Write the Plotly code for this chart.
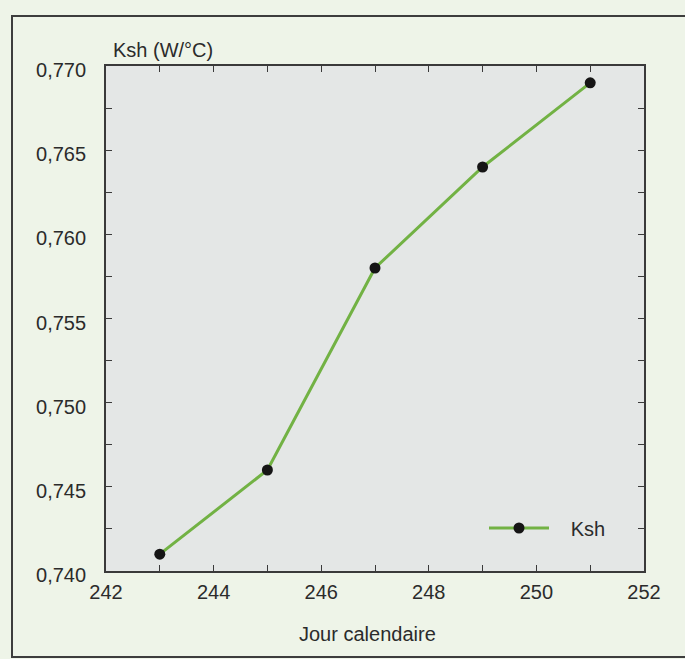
import plotly.graph_objects as go

days = [243, 245, 247, 249, 251]
ksh = [0.741, 0.746, 0.758, 0.764, 0.769]
series_name = "Ksh"

x_ticks = list(range(242, 253))
x_labels = [str(v) if v % 2 == 0 else "" for v in x_ticks]
y_ticks = [0.740 + 0.0025 * i for i in range(13)]
y_labels = [f"{v:.3f}".replace(".", ",") if i % 2 == 0 else "" for i, v in enumerate(y_ticks)]

W, H = 685, 659
ml, mr, mt, mb = 106, 41, 66, 88
pw, ph = W - ml - mr, H - mt - mb

def px(x):
    return (x - ml) / pw

def py(y):
    return (H - mb - y) / ph

txt = "#2b2b2b"
axcol = "#3a3a3a"
fs = 20

fig = go.Figure()
fig.add_trace(go.Scatter(
    x=days, y=ksh, name="\u00a0\u00a0\u00a0" + series_name, mode="lines+markers",
    line=dict(color="#72b244", width=3),
    marker=dict(color="#151515", size=11),
))

fig.update_layout(
    width=W, height=H,
    margin=dict(l=ml, r=mr, t=mt, b=mb),
    paper_bgcolor="#eef4e8",
    plot_bgcolor="#e4e7e6",
    font=dict(family="Liberation Sans, Arial, sans-serif", size=fs, color=txt),
    showlegend=True,
    legend=dict(
        x=px(484), y=py(528), xanchor="left", yanchor="middle",
        bgcolor="rgba(0,0,0,0)", itemwidth=60,
        font=dict(size=fs, color=txt),
    ),
    xaxis=dict(
        range=[242, 252], tickvals=x_ticks, ticktext=x_labels,
        ticks="inside", ticklen=6, tickwidth=1.2, tickcolor=axcol,
        showline=True, linecolor=axcol, linewidth=1.8, mirror="allticks",
        showgrid=False, zeroline=False, ticklabelstandoff=2,
    ),
    yaxis=dict(
        range=[0.740, 0.770], tickvals=y_ticks, ticktext=y_labels,
        ticks="inside", ticklen=6, tickwidth=1.2, tickcolor=axcol,
        showline=True, linecolor=axcol, linewidth=1.8, mirror="allticks",
        showgrid=False, zeroline=False, ticklabelstandoff=14, ticklabelshift=4,
    ),
    annotations=[
        dict(text="Ksh (W/°C)", xref="paper", yref="paper", x=px(111), y=py(50),
             xanchor="left", yanchor="middle", showarrow=False,
             font=dict(size=fs, color=txt)),
        dict(text="Jour calendaire", xref="paper", yref="paper", x=px(367), y=py(634),
             xanchor="center", yanchor="middle", showarrow=False,
             font=dict(size=fs, color=txt)),
    ],
    shapes=[
        dict(type="rect", xref="paper", yref="paper",
             x0=px(12), x1=px(700), y0=py(657), y1=py(16),
             line=dict(color="#3d3d3d", width=2), fillcolor="rgba(0,0,0,0)", layer="below"),
    ],
)

fig.write_html("out.html")
